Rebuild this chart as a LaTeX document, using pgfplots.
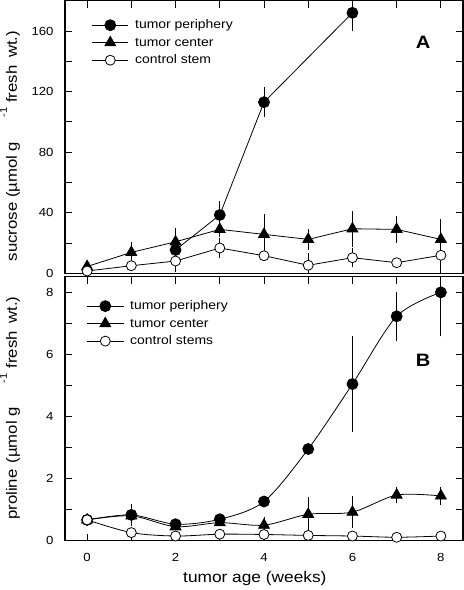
\documentclass[border=0pt]{standalone}
\usepackage{fontspec}
\setmainfont{Liberation Sans}[FakeStretch=1.12]
\usepackage{pgfplots}
\pgfplotsset{compat=1.18}

\pgfplotsset{
  myax/.style={
    scale only axis, width=398bp,
    xmin=-0.5, xmax=8.5,
    xtick={0,2,4,6,8}, minor xtick={1,3,5,7},
    tick align=inside, major tick length=7bp, minor tick length=7bp,
    axis line style={line width=1.3bp},
    every tick/.style={black, line width=0.8bp},
    tick label style={font=\fontsize{11.8}{13}\selectfont},
    /pgf/number format/assume math mode=true,
    yticklabel style={xshift=-8bp},
    xticklabel style={yshift=-9bp},
    legend cell align=left,
    legend style={draw=none, fill=none, inner sep=0pt, anchor=north west,
      font=\fontsize{12.5}{14}\selectfont, column sep=5bp,
      nodes={inner sep=1.5bp, text height=11bp, text depth=3.5bp}},
    legend image code/.code={\draw[mark repeat=2,mark phase=2] plot coordinates {(0bp,0bp)(18bp,0bp)(36bp,0bp)};},
    error bars/y dir=both, error bars/y explicit,
    error bars/error mark=-,
    error bars/error mark options={mark size=3.5bp, line width=0.8bp},
    error bars/error bar style={line width=0.8bp},
    ylabel style={font=\fontsize{15}{17}\selectfont, anchor=base},
    xlabel style={font=\fontsize{15.5}{17}\selectfont, anchor=base},
  },
  pe/.style={black, line width=0.8bp, mark=*, mark size=5.5bp, mark options={solid, fill=black}},
  ce/.style={black, line width=0.8bp, mark=triangle*, mark size=6.3bp, mark options={solid, fill=black}},
  co/.style={black, line width=0.8bp, mark=*, mark size=5bp, mark options={solid, fill=white}},
}

\begin{document}
\begin{tikzpicture}
% ---------------- Panel A: sucrose ----------------
\begin{axis}[myax,
  at={(65bp,-0.7bp)}, anchor=north west, height=272.6bp,
  ymin=0, ymax=180,
  ytick={0,40,...,160}, minor ytick={20,60,...,180},
  xtick pos=right, xticklabels={},
  ylabel={sucrose (µmol g\hspace{24bp}\raisebox{10bp}{\fontsize{10}{12}\selectfont -1}\hspace{5bp}fresh\hspace{3bp} wt.)},
  ylabel style={at={(axis description cs:-0.1206,0.467)}},
  legend style={at={(axis description cs:0.067,0.943)}},
]
\addplot[pe, error bars/.cd, y dir=both, y explicit] table[x=x, y=y, y error=e] {
x y e
2 15.4 3
3 38.5 7
4 113 7.5
6 172 10
};
\addlegendentry{tumor periphery}
\addplot[ce, error bars/.cd, y dir=both, y explicit] table[x=x, y=y, y error=e] {
x y e
0 4.5 0
1 13.8 4.5
2 20.8 7
3 29 3
4 25.7 11
5 22.4 4.5
6 29.4 9.5
7 29 6.6
8 22.4 11
};
\addlegendentry{tumor center}
\addplot[co, error bars/.cd, y dir=both, y explicit] table[x=x, y=y, y error=e] {
x y e
0 1.5 0
1 5 0
2 8.1 5
3 16.7 4.5
4 11.6 0
5 5.3 6
6 10.3 4
7 7 1
8 11.9 10
};
\addlegendentry{control stem}
\node[font=\bfseries\fontsize{18}{20}\selectfont] at (rel axis cs:0.8995,0.847) {A};
\end{axis}

% ---------------- Panel B: proline ----------------
\begin{axis}[myax,
  at={(65bp,-276.5bp)}, anchor=north west, height=264.2bp,
  ymin=0, ymax=8.5,
  ytick={0,2,...,8}, minor ytick={1,3,5,7},
  xtick pos=both,
  xlabel={tumor age (weeks)},
  xlabel style={at={(axis description cs:0.477,-0.160)}},
  ylabel={proline\hspace{6bp}(µmol g\hspace{24bp}\raisebox{10bp}{\fontsize{10}{12}\selectfont -1}\hspace{5bp}fresh\hspace{3bp} wt.)},
  ylabel style={at={(axis description cs:-0.1206,0.502)}},
  legend style={at={(axis description cs:0.0545,0.9217)}},
]
\addplot[pe, smooth, error bars/.cd, y dir=both, y explicit] table[x=x, y=y, y error=e] {
x y e
0 0.67 0
1 0.83 0.25
2 0.53 0
3 0.69 0
4 1.26 0
5 2.95 0
6 5.04 1.42
7 7.22 0.67
8 7.99 1.3
};
\addlegendentry{tumor periphery}
\addplot[ce, smooth, error bars/.cd, y dir=both, y explicit] table[x=x, y=y, y error=e] {
x y e
0 0.67 0
1 0.8 0
2 0.45 0
3 0.58 0
4 0.5 0.15
5 0.85 0.43
6 0.92 0.39
7 1.47 0.15
8 1.44 0.17
};
\addlegendentry{tumor center}
\addplot[co, smooth, error bars/.cd, y dir=both, y explicit] table[x=x, y=y, y error=e] {
x y e
0 0.67 0
1 0.26 0
2 0.15 0
3 0.21 0
4 0.2 0
5 0.17 0
6 0.15 0
7 0.11 0
8 0.15 0
};
\addlegendentry{control stems}
\node[font=\bfseries\fontsize{18}{20}\selectfont] at (rel axis cs:0.8995,0.684) {B};
\end{axis}
\pgfresetboundingbox
\useasboundingbox (0,0) rectangle (464bp,-590bp);
\end{tikzpicture}
\end{document}
